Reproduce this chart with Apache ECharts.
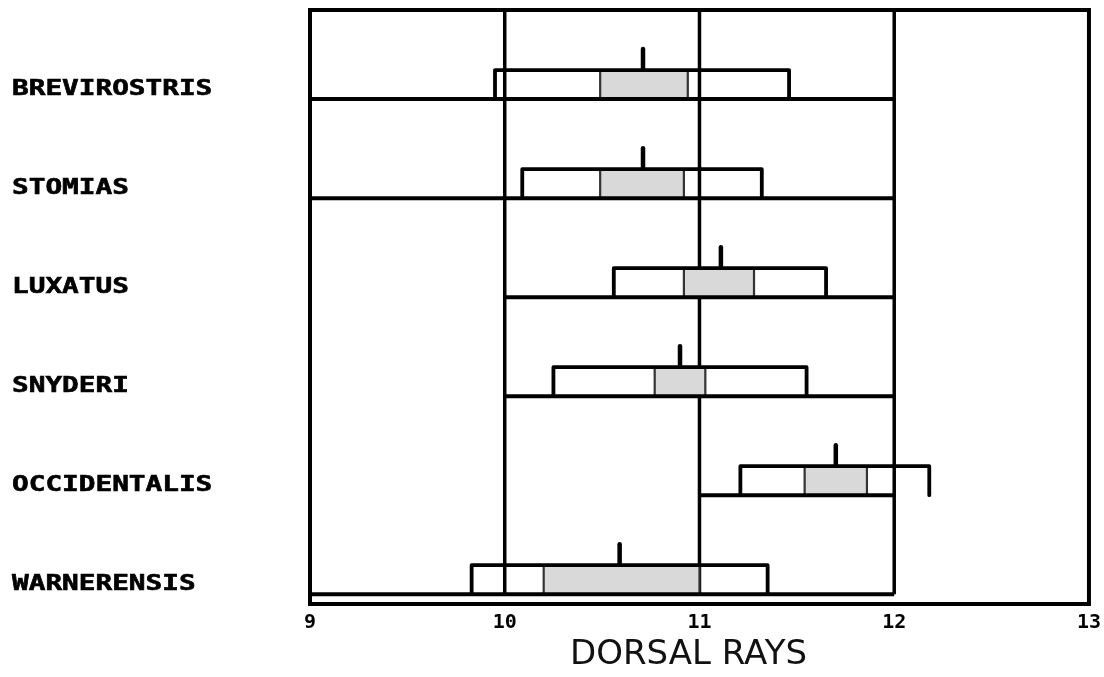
<!DOCTYPE html>
<html>
<head>
<meta charset="utf-8">
<script src="https://cdn.jsdelivr.net/npm/echarts@6/dist/echarts.min.js"></script>
<style>html,body{margin:0;padding:0;background:#fff;}#c{width:1104px;height:677px;}</style>
</head>
<body>
<div id="c"></div>
<script>
// ---- data ----
const species   = ['BREVIROSTRIS', 'STOMIAS', 'LUXATUS', 'SNYDERI', 'OCCIDENTALIS', 'WARNERENSIS'];
const rangeLow  = [9, 9, 10, 10, 11, 9];
const rangeHigh = [12, 12, 12, 12, 12, 12];
const boxLow    = [9.95, 10.09, 10.56, 10.25, 11.21, 9.83];
const boxHigh   = [11.46, 11.32, 11.65, 11.55, 12.18, 11.35];
const shadeLow  = [10.49, 10.49, 10.92, 10.77, 11.54, 10.20];
const shadeHigh = [10.94, 10.92, 11.28, 11.03, 11.86, 11.00];
const means     = [10.71, 10.71, 11.11, 10.90, 11.70, 10.59];
const gridValues = [10, 11, 12];
const xTicks = [9, 10, 11, 12, 13];
const axisTitle = 'DORSAL RAYS';

const X_MIN = 9, X_MAX = 13, Y_MIN = -0.1, Y_MAX = 5.9;

const rowData = species.map((s, i) => [
  species.length - 1 - i, rangeLow[i], rangeHigh[i], boxLow[i], boxHigh[i],
  shadeLow[i], shadeHigh[i], means[i], i
]);

const chart = echarts.init(document.getElementById('c'), null, {renderer: 'canvas'});

const BOX_H = 29, TICK_H = 21;

function renderGrid(params, api) {
  const v = api.value(0);
  const top = api.coord([v, Y_MAX]);
  const bot = api.coord([v, 0]);
  return {
    type: 'line',
    shape: {x1: top[0], y1: top[1], x2: bot[0], y2: bot[1]},
    style: {stroke: '#000', lineWidth: 3.5}
  };
}

function renderRow(params, api) {
  const p = api.value(0);
  const idx = api.value(8);
  const base = api.coord([api.value(1), p])[1];
  const xr0 = api.coord([api.value(1), p])[0];
  const xr1 = api.coord([api.value(2), p])[0];
  const xb0 = api.coord([api.value(3), p])[0];
  const xb1 = api.coord([api.value(4), p])[0];
  const xs0 = api.coord([api.value(5), p])[0];
  const xs1 = api.coord([api.value(6), p])[0];
  const xm  = api.coord([api.value(7), p])[0];
  const xLeft = api.coord([X_MIN, p])[0];
  const top = base - BOX_H;
  return {
    type: 'group',
    children: [
      {type: 'rect', shape: {x: xs0, y: top, width: xs1 - xs0, height: BOX_H},
        style: {fill: '#d9d9d9', stroke: '#333', lineWidth: 2.2}},
      {type: 'line', shape: {x1: xr0, y1: base, x2: xr1, y2: base},
        style: {stroke: '#000', lineWidth: 4}},
      {type: 'polyline', shape: {points: [[xb0, base], [xb0, top], [xb1, top], [xb1, base]]},
        style: {stroke: '#000', lineWidth: 3.8, fill: null, lineJoin: 'round', lineCap: 'round'}},
      {type: 'line', shape: {x1: xm, y1: top - 1, x2: xm, y2: top - TICK_H},
        style: {stroke: '#000', lineWidth: 4.5, lineCap: 'round'}},
      {type: 'text', x: xLeft - 298, y: base - 10, scaleX: 1.32, scaleY: 1,
        style: {text: species[idx], font: 'bold 21px "DejaVu Sans Mono"', fill: '#000',
          align: 'left', verticalAlign: 'middle', stroke: '#000', lineWidth: 0.6}}
    ]
  };
}

chart.setOption({
  animation: false,
  backgroundColor: '#fff',
  grid: {left: 310, right: 12, top: 10, bottom: 69, show: true,
    borderColor: '#000', borderWidth: 4, backgroundColor: 'transparent'},
  xAxis: {
    type: 'value', min: X_MIN, max: X_MAX, interval: 1,
    axisLine: {show: false}, axisTick: {show: false}, splitLine: {show: false},
    axisLabel: {show: true, margin: 9, color: '#000',
      fontFamily: '"DejaVu Sans Mono"', fontWeight: 'bold', fontSize: 20,
      formatter: v => xTicks.indexOf(v) >= 0 ? String(v) : ''},
    name: axisTitle, nameLocation: 'middle', nameGap: 31,
    nameTextStyle: {fontFamily: '"DejaVu Sans"', fontSize: 34, color: '#111',
      fontWeight: 'normal', padding: [0, 22, 0, 0]}
  },
  yAxis: {type: 'value', min: Y_MIN, max: Y_MAX, show: false,
    splitLine: {show: false}},
  series: [
    {type: 'custom', renderItem: renderGrid, data: gridValues.map(v => [v]),
      encode: {x: 0}, clip: false, z: 1, silent: true},
    {type: 'custom', renderItem: renderRow, data: rowData,
      encode: {x: [1, 2, 3, 4, 5, 6, 7], y: 0}, clip: false, z: 2, silent: true}
  ]
});
</script>
</body>
</html>
